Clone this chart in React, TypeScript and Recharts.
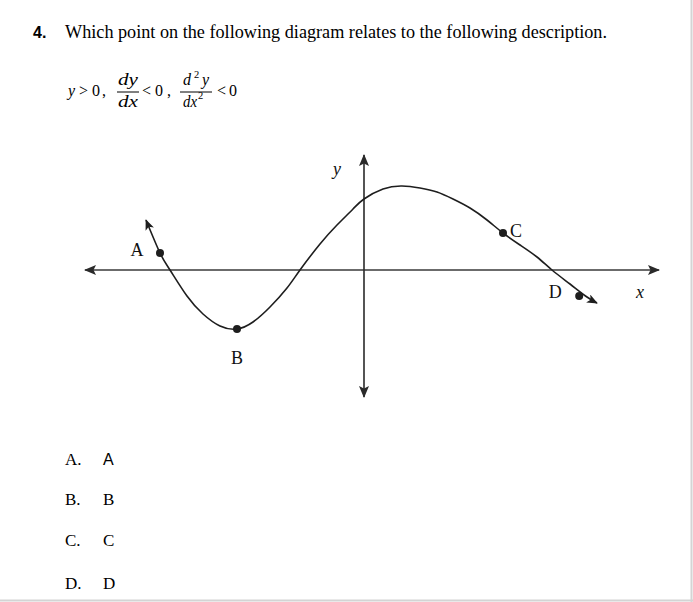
import { LineChart, Line, XAxis, YAxis, ReferenceLine, ReferenceDot } from 'recharts'

const SERIF = "'Liberation Serif', 'Times New Roman', serif"
const SANS = "'Liberation Sans', Arial, sans-serif"

// question text
const QUESTION_NUMBER = '4.'
const QUESTION = 'Which point on the following diagram relates to the following description.'
const OPTION_KEYS = ['A.', 'B.', 'C.', 'D.']
const OPTION_VALUES = ['A', 'B', 'C', 'D']
const OPTION_BASELINES = [465, 505, 546, 589]

// curve (x right, y up)
const CURVE_X = [-5.45, -5.1, -4.85, -4.425, -4.025, -3.6, -3.175, -2.775, -2.35, -1.925, -1.6, -1.1, -0.675, -0.275, 0, 0.475, 0.95, 1.4, 1.825, 2.225, 2.65, 3.075, 3.475, 3.9, 4.325, 4.7, 5.15, 5.575, 5.825]
const CURVE_Y = [1.25, 0.425, 0, -0.65, -1.1, -1.4, -1.475, -1.3, -0.925, -0.45, 0, 0.65, 1.125, 1.525, 1.775, 2.025, 2.1, 2.05, 1.95, 1.775, 1.55, 1.25, 0.925, 0.625, 0.325, 0, -0.35, -0.675, -0.825]

// marked points
const POINT_NAMES = ['A', 'B', 'C', 'D']
const POINT_X = [-5.1, -3.175, 3.475, 5.38]
const POINT_Y = [0.425, -1.475, 0.925, -0.65]
const POINT_LABEL_DX = [-23, 0, 13, -24]
const POINT_LABEL_DY = [3, 35, 4, 2]

// axis extents
const X_DOMAIN = [-7.1, 7.65]
const Y_DOMAIN = [-3.5, 3.25]
const X_AXIS_ENDS = [-6.975, 7.375]
const Y_AXIS_ENDS = [-3.175, 2.875]

const data = CURVE_X.map((x, i) => ({ x, y: CURVE_Y[i] }))

const tag = (text: string, dx: number, dy: number, italic = false) => ({
  content: (props: any) => {
    const vb = props.viewBox || {}
    const cx = (vb.x ?? 0) + (vb.width ?? 0) / 2
    const cy = (vb.y ?? 0) + (vb.height ?? 0) / 2
    return (
      <text
        x={cx + dx}
        y={cy + dy}
        textAnchor="middle"
        fontFamily={SERIF}
        fontSize={18}
        fontStyle={italic ? 'italic' : 'normal'}
        fill="#111"
      >
        {text}
      </text>
    )
  },
})

function Formula() {
  const t = { fontFamily: SERIF, fontSize: 16, fill: '#000' }
  const it = { ...t, fontStyle: 'italic' as const }
  const sup = { ...t, fontSize: 10.5 }
  return (
    <g>
      <text x={68} y={96} {...it}>y</text>
      <text x={79} y={96} {...t}>&gt;</text>
      <text x={92} y={96} {...t}>0</text>
      <text x={102} y={96} {...t}>,</text>

      <text x={118} y={85} {...it} textLength={20} lengthAdjust="spacingAndGlyphs">dy</text>
      <line x1={117} x2={139} y1={92} y2={92} stroke="#000" strokeWidth={1} />
      <text x={118} y={107} {...it} textLength={20} lengthAdjust="spacingAndGlyphs">dx</text>

      <text x={142} y={96} {...t}>&lt;</text>
      <text x={155} y={96} {...t}>0</text>
      <text x={167} y={96} {...t}>,</text>

      <text x={183} y={85} {...it}>d</text>
      <text x={194} y={78} {...sup}>2</text>
      <text x={202} y={85} {...it}>y</text>
      <line x1={180} x2={212} y1={92} y2={92} stroke="#000" strokeWidth={1} />
      <text x={183} y={107} {...it} textLength={14} lengthAdjust="spacingAndGlyphs">dx</text>
      <text x={198} y={99} {...sup}>2</text>

      <text x={217} y={96} {...t}>&lt;</text>
      <text x={229} y={96} {...t}>0</text>
    </g>
  )
}

export default function App() {
  return (
    <div style={{ position: 'absolute', left: 0, top: 0, width: 693, height: 602, background: '#fff' }}>
      <svg width={693} height={602} style={{ position: 'absolute', left: 0, top: 0 }}>
        <text x={33} y={38} fontFamily={SANS} fontWeight="bold" fontSize={16} fill="#000">
          {QUESTION_NUMBER}
        </text>
        <text x={65} y={38} fontFamily={SERIF} fontSize={18.2} fill="#000">
          {QUESTION}
        </text>
        <Formula />
        {OPTION_KEYS.map((k, i) => (
          <g key={k}>
            <text x={65} y={OPTION_BASELINES[i]} fontFamily={SERIF} fontSize={17} fill="#000">
              {k}
            </text>
            <text
              x={103}
              y={OPTION_BASELINES[i]}
              fontFamily={i === 0 ? SANS : SERIF}
              fontSize={i === 0 ? 16 : 17}
              fill="#000"
            >
              {OPTION_VALUES[i]}
            </text>
          </g>
        ))}
        <line x1={691.5} x2={691.5} y1={0} y2={602} stroke="#d4d4d4" strokeWidth={2} />
        <line x1={0} x2={693} y1={600.5} y2={600.5} stroke="#d4d4d4" strokeWidth={2} />
      </svg>

      <div style={{ position: 'absolute', left: 80, top: 140 }}>
        <LineChart width={590} height={270} data={data} margin={{ top: 0, right: 0, bottom: 0, left: 0 }}>
          <defs>
            <marker
              id="axisArrow"
              viewBox="0 0 12 10"
              refX={11}
              refY={5}
              markerWidth={12}
              markerHeight={10}
              markerUnits="userSpaceOnUse"
              orient="auto-start-reverse"
            >
              <path d="M0,0 L12,5 L0,10 L2.5,5 Z" fill="#2a2a2a" />
            </marker>
            <marker
              id="curveArrow"
              viewBox="0 0 12 10"
              refX={11}
              refY={5}
              markerWidth={12}
              markerHeight={9}
              markerUnits="userSpaceOnUse"
              orient="auto-start-reverse"
            >
              <path d="M0,0 L12,5 L0,10 L3,5 Z" fill="#1e1e1e" />
            </marker>
          </defs>
          <XAxis type="number" dataKey="x" domain={X_DOMAIN} hide allowDataOverflow />
          <YAxis type="number" dataKey="y" domain={Y_DOMAIN} hide allowDataOverflow />
          <ReferenceLine
            segment={[{ x: X_AXIS_ENDS[0], y: 0 }, { x: X_AXIS_ENDS[1], y: 0 }]}
            stroke="#3a3a3a"
            strokeWidth={1.4}
            markerStart="url(#axisArrow)"
            markerEnd="url(#axisArrow)"
          />
          <ReferenceLine
            segment={[{ x: 0, y: Y_AXIS_ENDS[0] }, { x: 0, y: Y_AXIS_ENDS[1] }]}
            stroke="#2a2a2a"
            strokeWidth={1.6}
            markerStart="url(#axisArrow)"
            markerEnd="url(#axisArrow)"
          />
          <Line
            type="natural"
            dataKey="y"
            stroke="#1e1e1e"
            strokeWidth={1.6}
            dot={false}
            activeDot={false}
            isAnimationActive={false}
            markerStart="url(#curveArrow)"
            markerEnd="url(#curveArrow)"
          />
          {POINT_NAMES.map((name, i) => (
            <ReferenceDot
              key={name}
              x={POINT_X[i]}
              y={POINT_Y[i]}
              r={4}
              fill="#1e1e1e"
              stroke="none"
              label={tag(name, POINT_LABEL_DX[i], POINT_LABEL_DY[i])}
            />
          ))}
          <ReferenceDot
            x={0}
            y={Y_AXIS_ENDS[1]}
            r={0}
            fill="none"
            stroke="none"
            label={tag('y', -27, 20, true)}
          />
          <ReferenceDot
            x={X_AXIS_ENDS[1]}
            y={0}
            r={0}
            fill="none"
            stroke="none"
            label={tag('x', -19, 28, true)}
          />
        </LineChart>
      </div>
    </div>
  )
}
